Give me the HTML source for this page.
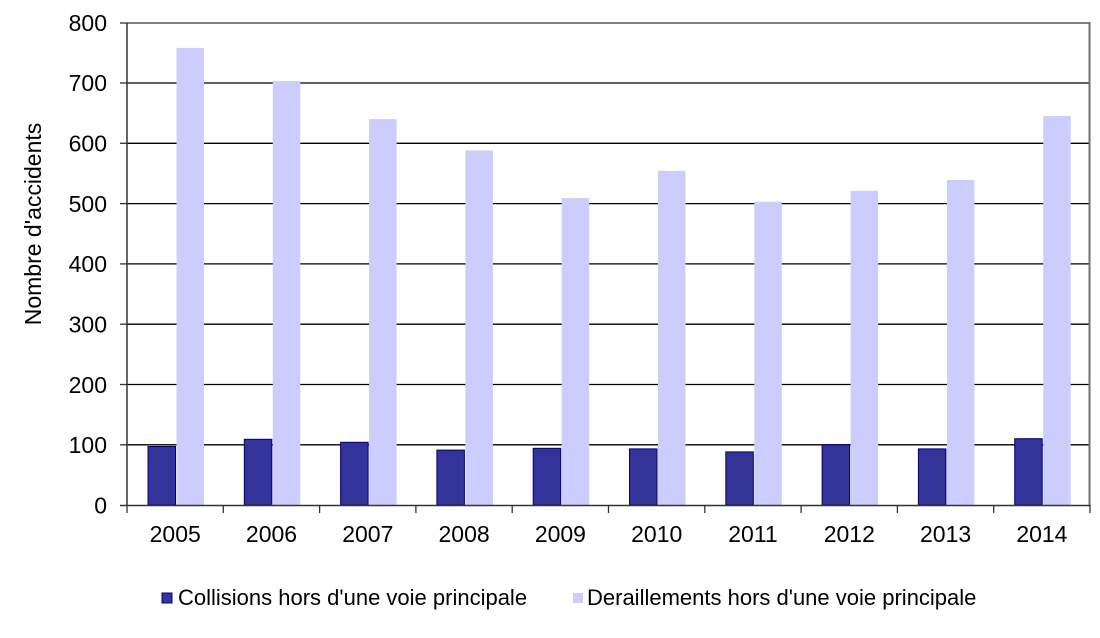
<!DOCTYPE html>
<html><head><meta charset="utf-8"><style>
html,body{margin:0;padding:0;background:#fff;}
svg{display:block;font-family:"Liberation Sans",Arial,sans-serif;}
</style></head><body>
<svg width="1100" height="638" viewBox="0 0 1100 638" xmlns="http://www.w3.org/2000/svg">
<rect x="0" y="0" width="1100" height="638" fill="#fff"/>
<g stroke="#000" stroke-width="1.3">
<line x1="127" y1="83" x2="1089" y2="83"/>
<line x1="127" y1="143.3" x2="1089" y2="143.3"/>
<line x1="127" y1="203.6" x2="1089" y2="203.6"/>
<line x1="127" y1="263.9" x2="1089" y2="263.9"/>
<line x1="127" y1="324.2" x2="1089" y2="324.2"/>
<line x1="127" y1="384.5" x2="1089" y2="384.5"/>
<line x1="127" y1="444.8" x2="1089" y2="444.8"/>
</g>
<g id="bars">
<rect x="148" y="446.5" width="27.5" height="58.5" fill="#333399" stroke="#000080" stroke-width="1"/>
<rect x="176.5" y="47.9" width="27.5" height="457.1" fill="#ccccff"/>
<rect x="244.3" y="439.3" width="27.5" height="65.7" fill="#333399" stroke="#000080" stroke-width="1"/>
<rect x="272.8" y="81.1" width="27.5" height="423.9" fill="#ccccff"/>
<rect x="340.6" y="442.3" width="27.5" height="62.7" fill="#333399" stroke="#000080" stroke-width="1"/>
<rect x="369.1" y="119.1" width="27.5" height="385.9" fill="#ccccff"/>
<rect x="436.9" y="450.1" width="27.5" height="54.9" fill="#333399" stroke="#000080" stroke-width="1"/>
<rect x="465.4" y="150.4" width="27.5" height="354.6" fill="#ccccff"/>
<rect x="533.2" y="448.3" width="27.5" height="56.7" fill="#333399" stroke="#000080" stroke-width="1"/>
<rect x="561.7" y="198.1" width="27.5" height="306.9" fill="#ccccff"/>
<rect x="629.5" y="448.9" width="27.5" height="56.1" fill="#333399" stroke="#000080" stroke-width="1"/>
<rect x="658" y="170.9" width="27.5" height="334.1" fill="#ccccff"/>
<rect x="725.8" y="451.9" width="27.5" height="53.1" fill="#333399" stroke="#000080" stroke-width="1"/>
<rect x="754.3" y="201.7" width="27.5" height="303.3" fill="#ccccff"/>
<rect x="822.1" y="444.7" width="27.5" height="60.3" fill="#333399" stroke="#000080" stroke-width="1"/>
<rect x="850.6" y="190.8" width="27.5" height="314.2" fill="#ccccff"/>
<rect x="918.4" y="448.9" width="27.5" height="56.1" fill="#333399" stroke="#000080" stroke-width="1"/>
<rect x="946.9" y="180" width="27.5" height="325" fill="#ccccff"/>
<rect x="1014.7" y="438.7" width="27.5" height="66.3" fill="#333399" stroke="#000080" stroke-width="1"/>
<rect x="1043.2" y="116.1" width="27.5" height="388.9" fill="#ccccff"/>
</g>
<line x1="127" y1="23" x2="1090" y2="23" stroke="#808080" stroke-width="2"/>
<line x1="1089.5" y1="22" x2="1089.5" y2="505" stroke="#707070" stroke-width="2"/>
<line x1="127" y1="23" x2="127" y2="506" stroke="#333" stroke-width="1.5"/>
<line x1="120" y1="505.5" x2="1090" y2="505.5" stroke="#333" stroke-width="1.5"/>
<g stroke="#333" stroke-width="1.3">
<line x1="120" y1="23" x2="127" y2="23"/><line x1="120" y1="83" x2="127" y2="83"/><line x1="120" y1="143.3" x2="127" y2="143.3"/><line x1="120" y1="203.6" x2="127" y2="203.6"/><line x1="120" y1="263.9" x2="127" y2="263.9"/><line x1="120" y1="324.2" x2="127" y2="324.2"/><line x1="120" y1="384.5" x2="127" y2="384.5"/><line x1="120" y1="444.8" x2="127" y2="444.8"/>
<line x1="127" y1="505" x2="127" y2="513"/><line x1="223.3" y1="505" x2="223.3" y2="513"/><line x1="319.6" y1="505" x2="319.6" y2="513"/><line x1="415.9" y1="505" x2="415.9" y2="513"/><line x1="512.2" y1="505" x2="512.2" y2="513"/><line x1="608.5" y1="505" x2="608.5" y2="513"/><line x1="704.8" y1="505" x2="704.8" y2="513"/><line x1="801.1" y1="505" x2="801.1" y2="513"/><line x1="897.4" y1="505" x2="897.4" y2="513"/><line x1="993.7" y1="505" x2="993.7" y2="513"/><line x1="1090" y1="505" x2="1090" y2="513"/>
</g>
<g font-size="23" text-anchor="end" fill="#000">
<text x="107" y="31">800</text><text x="107" y="91">700</text><text x="107" y="151.5">600</text><text x="107" y="212">500</text><text x="107" y="272">400</text><text x="107" y="332.5">300</text><text x="107" y="393">200</text><text x="107" y="453">100</text><text x="107" y="513.5">0</text>
</g>
<g font-size="23" text-anchor="middle" fill="#000">
<text x="175.2" y="542">2005</text><text x="271.5" y="542">2006</text><text x="367.8" y="542">2007</text><text x="464.1" y="542">2008</text><text x="560.4" y="542">2009</text><text x="656.7" y="542">2010</text><text x="753" y="542">2011</text><text x="849.3" y="542">2012</text><text x="945.6" y="542">2013</text><text x="1041.9" y="542">2014</text>
</g>
<text transform="translate(41,224) rotate(-90)" font-size="23" text-anchor="middle">Nombre d'accidents</text>
<rect x="162" y="593" width="10" height="10" fill="#333399" stroke="#000080" stroke-width="1"/>
<text x="178" y="605" font-size="22">Collisions hors d'une voie principale</text>
<rect x="573" y="593" width="10" height="10" fill="#ccccff"/>
<text x="587" y="605" font-size="22">Deraillements hors d'une voie principale</text>
</svg>
</body></html>
